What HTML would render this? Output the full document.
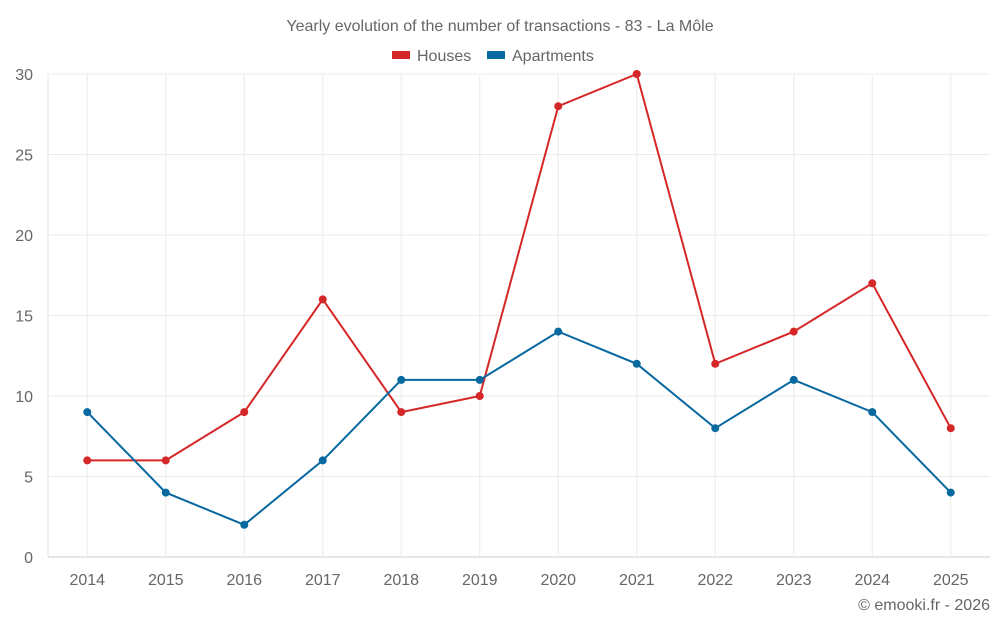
<!DOCTYPE html>
<html><head><meta charset="utf-8"><style>
body{margin:0;background:#fff;font-family:"Liberation Sans",sans-serif;}
svg text{font-family:"Liberation Sans",sans-serif;fill:#666;}
</style></head><body>
<svg id="chart" width="1000" height="625" xmlns="http://www.w3.org/2000/svg">
<text x="500" y="31" text-anchor="middle" font-size="16">Yearly evolution of the number of transactions - 83 - La Môle</text>
<g>
<g><rect x="392" y="51" width="18" height="8" fill="#d62728"/><text x="417" y="61" font-size="16">Houses</text></g>
<g><rect x="487" y="51" width="18" height="8" fill="#0868a0"/><text x="512" y="61" font-size="16">Apartments</text></g>
</g>
<g id="grid"></g>
<g id="axes"></g>
<g id="series"></g>
<text x="990" y="610" text-anchor="end" font-size="16">© emooki.fr - 2026</text>
</svg>
<script>
const years=["2014","2015","2016","2017","2018","2019","2020","2021","2022","2023","2024","2025"];
const houses=[6,6,9,16,9,10,28,30,12,14,17,8];
const apartments=[9,4,2,6,11,11,14,12,8,11,9,4];
const yTicks=[0,5,10,15,20,25,30];
const L=48,R=990,T=74,B=557,yMax=30;
const bw=(R-L)/years.length;
const x=i=>L+bw*(i+0.5);
const y=v=>B-(v/yMax)*(B-T);
const NS="http://www.w3.org/2000/svg";
function mk(tag,attrs,parent){const e=document.createElementNS(NS,tag);for(const k in attrs)e.setAttribute(k,attrs[k]);parent.appendChild(e);return e;}
const grid=document.getElementById('grid'),axes=document.getElementById('axes'),series=document.getElementById('series');
yTicks.forEach(t=>{
 const l=mk('line',{x1:L,x2:R,y1:y(t),y2:y(t),stroke:t===0?'#ccc':'#ebebeb','stroke-width':1},grid);
 
 
 const tx=mk('text',{x:33,y:y(t)+6,'text-anchor':'end','font-size':16},axes);
 tx.textContent=t;
 
 
});
const yAxis=mk('line',{x1:L,x2:L,y1:T,y2:B,stroke:'#e6e6e6','stroke-width':1},grid);


years.forEach((yr,i)=>{
 const l=mk('line',{x1:x(i),x2:x(i),y1:T,y2:B,stroke:'#ebebeb','stroke-width':1},grid);
 
 
 const tx=mk('text',{x:x(i),y:585,'text-anchor':'middle','font-size':16},axes);
 tx.textContent=yr;
 
 
});
function draw(vals,color,name){
 const p=mk('polyline',{points:vals.map((v,i)=>x(i)+','+y(v)).join(' '),fill:'none',stroke:color,'stroke-width':2},series);
 
 
 vals.forEach((v,i)=>{
  const c=mk('circle',{cx:x(i),cy:y(v),r:4,fill:color},series);
  
  
 });
}
draw(houses,'#d62728','houses');
draw(apartments,'#0868a0','apartments');
</script>
</body></html>
